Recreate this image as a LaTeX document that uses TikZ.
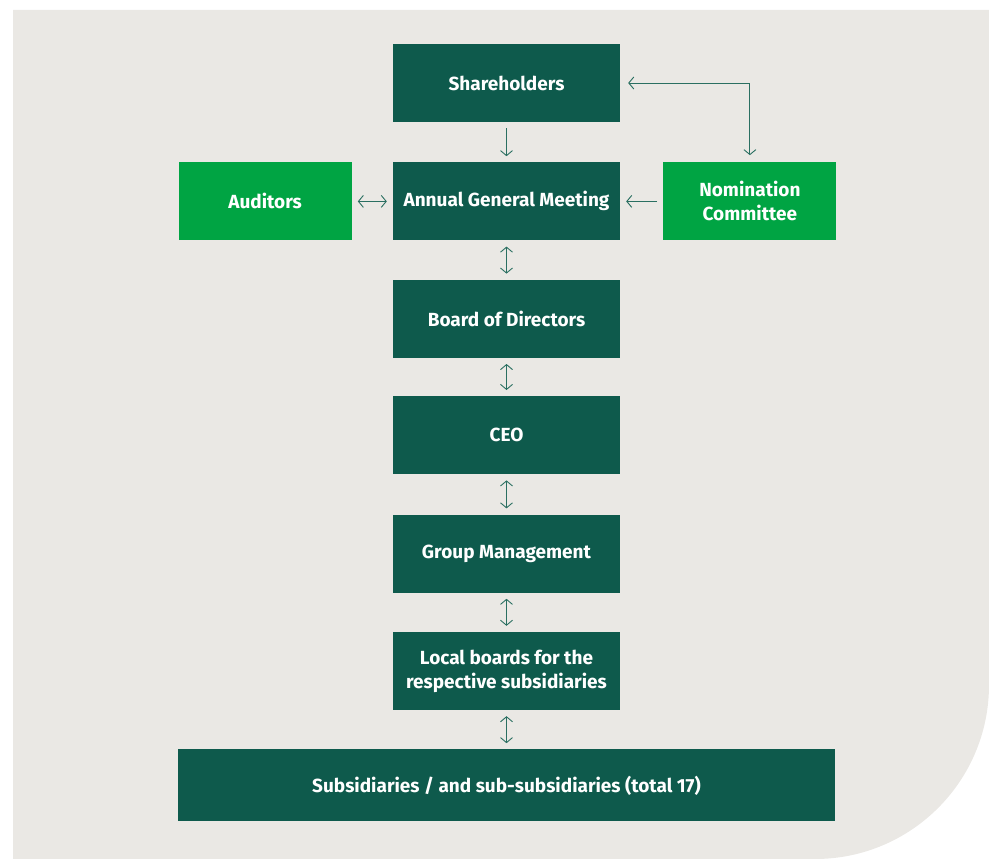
\documentclass[tikz,border=0pt]{standalone}
\usepackage{fontspec}
\setmainfont{Fira Sans}
\usepackage{tikz}
\usetikzlibrary{arrows.meta,positioning,calc}
\definecolor{darkgreen}{HTML}{0E5A4C}
\definecolor{lightgreen}{HTML}{00A443}
\definecolor{paper}{HTML}{EAE8E4}
\definecolor{linkcolor}{HTML}{2A6F61}
\def \blockWidth {227pt}
\def \blockHeight {78pt}
\def \sideWidth {173pt}
\def \smallGap {6pt}
\tikzset{
 	mainblock/.style= {draw=none, rectangle, align=center, minimum width=\blockWidth, minimum height=\blockHeight, fill=darkgreen, text=white, font=\fontsize{19}{24}\selectfont\bfseries, inner sep=0pt},
 	sideblock/.style= {mainblock, minimum width=\sideWidth, fill=lightgreen},
 	wideblock/.style= {mainblock, minimum width=657pt, minimum height=72pt},
 	link/.style= {draw=linkcolor, line width=0.9pt, arrows={Straight Barb[length=5pt,width=12pt]-Straight Barb[length=5pt,width=12pt]}, shorten <=\smallGap, shorten >=\smallGap},
 	onelink/.style= {link, arrows={-Straight Barb[length=5pt,width=12pt]}}
 }

\begin{document}
\begin{tikzpicture}

    \useasboundingbox (0pt,0pt) rectangle (989pt,-859pt);
    \fill[paper] (13pt,-10pt) -- (989pt,-10pt) -- (989pt,-685pt) arc[start angle=0, end angle=-90, radius=174pt] -- (13pt,-859pt) -- cycle;

%%%%%%%%%%%%%%%%%%%%% Nodes %%%%%%%%%%%%%%%%%%%%%
    \node [mainblock] (Share) at (506.5pt,-83pt) {Shareholders};
    \node [mainblock, below =40pt of Share] (AGM) {Annual General Meeting};
    \node [sideblock, left =41pt of AGM] (Aud) {Auditors};
    \node [sideblock, right =43pt of AGM] (Nom) {Nomination\\Committee};
    \node [mainblock, below =39pt of AGM] (Board) {Board of Directors};
    \node [mainblock, below =38pt of Board] (CEO) {CEO};
    \node [mainblock, below =40pt of CEO] (GM) {Group Management};
    \node [mainblock, below =39pt of GM] (Local) {Local boards for the\\respective subsidiaries};
    \node [wideblock, below =39pt of Local] (Subs) {Subsidiaries / and sub-subsidiaries (total 17)};

%%%%%%%%%%%%%%%%%%%%% Links %%%%%%%%%%%%%%%%%%%%%
    \draw[onelink] (Share) -- (AGM);
    \draw[link] (Aud) -- (AGM);
    \draw[onelink] (Nom) -- (AGM);
    \draw[link, shorten <=8pt, shorten >=7pt] (Share.east) -| (Nom.north);
    \draw[link] (AGM) -- (Board);
    \draw[link] (Board) -- (CEO);
    \draw[link] (CEO) -- (GM);
    \draw[link] (GM) -- (Local);
    \draw[link] (Local) -- (Subs);

\end{tikzpicture}
\end{document}
